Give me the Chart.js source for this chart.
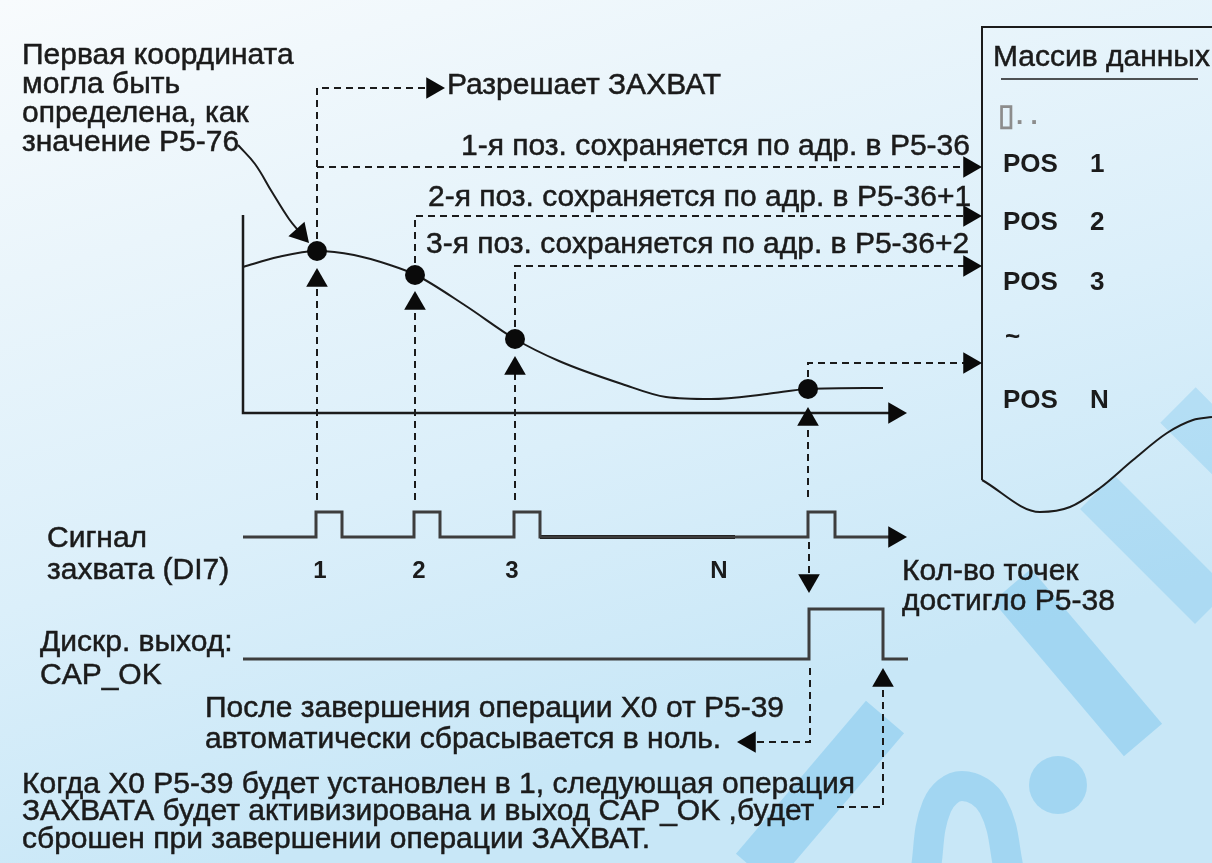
<!DOCTYPE html>
<html>
<head>
<meta charset="utf-8">
<title>Захват позиций (DI7)</title>
<script src="https://cdn.jsdelivr.net/npm/chart.js"></script>
<style>
  html, body { margin: 0; padding: 0; background: #e6f3fa; }
  #wrap { width: 1212px; height: 863px; }
</style>
</head>
<body>
<div id="wrap"><canvas id="capChart"></canvas></div>
<script>
// diagram units: x 0..1212 left to right, y 0..863 top to bottom

// position curve and the captured samples on it
const curveX = [243, 278, 317, 354, 390, 416, 466, 515, 559, 622, 666, 711, 767, 808, 883];
const curveY = [267, 257, 251, 255, 265, 275, 306, 339, 361, 384, 397, 399, 394, 389, 388];
const captureX = [317, 415, 515, 808];
const captureY = [251, 275, 339, 389];

// rows where the captured values are written into the data array
const storeRowY = [167, 216, 266, 363];
const enableRowY = 88;
const arrayEdgeX = 982;

// DI7 capture signal
const di7LowY = 537, di7HighY = 512;
const di7Start = 243, di7End = 890;
const pulseStartX = [316, 414, 514, 808];
const pulseEndX = [342, 440, 540, 835];
const idleFromX = 540, idleToX = 735;

// CAP_OK output
const capLowY = 659, capHighY = 609;
const capStart = 243, capEnd = 908;
const capRiseX = [809];
const capFallX = [883];

// axes of the position plot
const axisX0 = 243, axisY0 = 413, axisTop = 215, axisRight = 890;

// arrow tips: x, y, direction in degrees (0 = up, 90 = right)
const arrowTips = [
  [445, 88, 90],
  [982, 167, 90], [982, 216, 90], [982, 266, 90], [982, 363, 90],
  [317, 268, 0], [415, 291, 0], [515, 356, 0], [808, 407, 0],
  [907, 413, 90], [907, 537, 90],
  [809, 593, 180], [737, 742, 270], [883, 668, 0],
  [309, 243, 138]
];

// text
const plainLabels = [
  ['Первая координата', 22, 56],
  ['могла быть', 22, 85],
  ['определена, как', 22, 114],
  ['значение P5-76', 22, 143],
  ['Разрешает ЗАХВАТ', 447, 86],
  ['1-я поз. сохраняется по адр. в P5-36', 461, 147],
  ['2-я поз. сохраняется по адр. в P5-36+1', 428, 198],
  ['3-я поз. сохраняется по адр. в P5-36+2', 426, 245],
  ['Массив данных', 993, 58],
  ['Сигнал', 47, 539],
  ['захвата (DI7)', 47, 571],
  ['Кол-во точек', 902, 572],
  ['достигло P5-38', 902, 602],
  ['Дискр. выход:', 40, 643],
  ['CAP_OK', 40, 676],
  ['После завершения операции X0 от P5-39', 205, 709],
  ['автоматически сбрасывается в ноль.', 205, 740],
  ['Когда X0 P5-39 будет установлен в 1, следующая операция', 22, 785],
  ['ЗАХВАТА будет активизирована и выход CAP_OK ,будет', 22, 812],
  ['сброшен при завершении операции ЗАХВАТ.', 22, 840]
];
const posNames = ['POS', 'POS', 'POS', 'POS'];
const posIndex = ['1', '2', '3', 'N'];
const posRowY = [165, 223, 283, 401];
const pulseNames = ['1', '2', '3', 'N'];
const pulseNameX = [320, 419, 512, 719];

const INK = '#1b1b1b';
const SIG = '#3d3d3d';
const BAND = 'rgba(60, 170, 230, 0.27)';
const BAND_LIGHT = 'rgba(60, 170, 230, 0.2)';
const FONT = '"Liberation Sans", Arial, sans-serif';
const ARROW_R = 12.5;

const pts = (xs, ys) => xs.map((x, i) => ({x: x, y: ys[i]}));

function solid(data, width, color, extra) {
  return Object.assign({
    type: 'line', data: data, borderColor: color || INK, borderWidth: width || 2,
    pointRadius: 0, tension: 0, fill: false, order: 1
  }, extra || {});
}
function dashed(data) {
  return solid(data, 2, INK, {borderDash: [7, 5]});
}
function steps(start, end, low, high, ups, downs) {
  const out = [{x: start, y: low}];
  ups.forEach((u, i) => {
    out.push({x: u, y: low}, {x: u, y: high}, {x: downs[i], y: high}, {x: downs[i], y: low});
  });
  out.push({x: end, y: low});
  return out;
}

const datasets = [];

// watermark in the background
datasets.push(solid([{x: 1178, y: 405}, {x: 1250, y: 477}], 50, BAND_LIGHT, {order: 9}));
datasets.push(solid([{x: 1097, y: 492}, {x: 1212, y: 607}], 48, BAND_LIGHT, {order: 9}));
datasets.push(solid([{x: 1012, y: 585}, {x: 1143, y: 740}], 50, BAND, {order: 9}));
datasets.push(solid([{x: 755, y: 870}, {x: 885, y: 717}], 50, BAND, {order: 9}));
datasets.push(solid([{x: 925, y: 875}, {x: 937, y: 806}, {x: 962, y: 786}, {x: 993, y: 806}, {x: 1010, y: 875}], 30, BAND,
  {order: 9, tension: 0.4}));
datasets.push({type: 'scatter', data: [{x: 1058, y: 785}], pointRadius: 29, pointBackgroundColor: BAND,
  pointBorderWidth: 0, order: 9});

// position plot
datasets.push(solid([{x: axisX0, y: axisTop}, {x: axisX0, y: axisY0}, {x: axisRight, y: axisY0}], 2.5));
datasets.push(solid(pts(curveX, curveY), 2, INK, {cubicInterpolationMode: 'monotone'}));
datasets.push({type: 'scatter', data: pts(captureX, captureY), pointRadius: 10,
  pointBackgroundColor: '#0a0a0a', pointBorderWidth: 0, order: 0});

// callout from the first-coordinate note
datasets.push(solid([{x: 238, y: 145}, {x: 255, y: 164}, {x: 272, y: 192}, {x: 289, y: 219}, {x: 302, y: 235}],
  2, INK, {tension: 0.4}));

// dashed links to the data array
datasets.push(dashed([{x: captureX[0], y: captureY[0]}, {x: captureX[0], y: enableRowY}, {x: 430, y: enableRowY}]));
datasets.push(dashed([{x: captureX[0], y: storeRowY[0]}, {x: arrayEdgeX - 18, y: storeRowY[0]}]));
for (let i = 1; i < 4; i++) {
  datasets.push(dashed([{x: captureX[i], y: captureY[i]}, {x: captureX[i], y: storeRowY[i]},
    {x: arrayEdgeX - 18, y: storeRowY[i]}]));
}

// dashed links from the pulses up to the samples
const riseTopY = [286, 309, 374, 425];
captureX.forEach((x, i) => {
  datasets.push(dashed([{x: x, y: i === 3 ? 497 : 500}, {x: x, y: riseTopY[i]}]));
});
datasets.push(dashed([{x: 809, y: 542}, {x: 809, y: 578}]));
datasets.push(dashed([{x: 810, y: 668}, {x: 810, y: 742}, {x: 752, y: 742}]));
datasets.push(dashed([{x: 837, y: 807}, {x: 883, y: 807}, {x: 883, y: 686}]));

// signals
datasets.push(solid(steps(di7Start, di7End, di7LowY, di7HighY, pulseStartX, pulseEndX), 3, SIG));
datasets.push(solid([{x: idleFromX, y: di7LowY}, {x: idleToX, y: di7LowY}], 4, '#0d0d0d'));
datasets.push(solid(steps(capStart, capEnd, capLowY, capHighY, capRiseX, capFallX), 3, SIG));

// data array box
datasets.push(solid([{x: 1212, y: 27}, {x: arrayEdgeX, y: 27}, {x: arrayEdgeX, y: 480}], 2));
datasets.push(solid([{x: 982, y: 480}, {x: 1040, y: 512}, {x: 1070, y: 507}, {x: 1100, y: 488},
  {x: 1133, y: 460}, {x: 1167, y: 433}, {x: 1193, y: 420}, {x: 1212, y: 417}], 2, INK,
  {cubicInterpolationMode: 'monotone'}));
datasets.push(solid([{x: 1001, y: 79}, {x: 1198, y: 79}], 1.5));

// arrow heads
datasets.push({
  type: 'scatter',
  data: arrowTips.map(a => {
    const r = a[2] * Math.PI / 180;
    return {x: a[0] - ARROW_R * Math.sin(r), y: a[1] + ARROW_R * Math.cos(r)};
  }),
  pointStyle: 'triangle',
  pointRadius: ARROW_R,
  pointRotation: arrowTips.map(a => a[2]),
  pointBackgroundColor: '#0a0a0a',
  pointBorderWidth: 0,
  order: 0
});

const backdrop = {
  id: 'backdrop',
  beforeDraw(chart) {
    const c = chart.ctx;
    const g = c.createLinearGradient(0, 0, 260, chart.height);
    g.addColorStop(0, '#f8fbfd');
    g.addColorStop(0.3, '#eaf5fb');
    g.addColorStop(0.65, '#dbeffa');
    g.addColorStop(1, '#c8e7f7');
    c.save();
    c.fillStyle = g;
    c.fillRect(0, 0, chart.width, chart.height);
    c.restore();
  }
};

const textLayer = {
  id: 'textLayer',
  afterDatasetsDraw(chart) {
    const c = chart.ctx, sx = chart.scales.x, sy = chart.scales.y;
    c.save();
    c.textBaseline = 'middle';
    c.textAlign = 'left';
    c.fillStyle = INK;
    c.strokeStyle = INK;
    c.lineWidth = 0.5;
    c.font = '30px ' + FONT;
    plainLabels.forEach(l => {
      const px = sx.getPixelForValue(l[1]), py = sy.getPixelForValue(l[2]);
      c.fillText(l[0], px, py);
      c.strokeText(l[0], px, py);
    });

    c.font = 'bold 26px ' + FONT;
    posRowY.forEach((y, i) => {
      c.fillText(posNames[i], sx.getPixelForValue(1003), sy.getPixelForValue(y));
      c.fillText(posIndex[i], sx.getPixelForValue(1090), sy.getPixelForValue(y));
    });
    c.fillText('~', sx.getPixelForValue(1005), sy.getPixelForValue(338));
    c.fillStyle = '#8c8c8c';
    c.font = 'bold 30px ' + FONT;
    c.fillText('\u25AF', sx.getPixelForValue(998), sy.getPixelForValue(117));
    c.font = 'bold 26px ' + FONT;
    c.fillText('. .', sx.getPixelForValue(1016), sy.getPixelForValue(117));

    c.fillStyle = INK;
    c.textAlign = 'center';
    c.font = 'bold 24px ' + FONT;
    pulseNames.forEach((t, i) => c.fillText(t, sx.getPixelForValue(pulseNameX[i]), sy.getPixelForValue(571)));
    c.restore();
  }
};

new Chart(document.getElementById('capChart'), {
  type: 'scatter',
  data: {datasets: datasets},
  options: {
    responsive: true,
    maintainAspectRatio: false,
    animation: false,
    events: [],
    layout: {padding: 0, autoPadding: false},
    scales: {
      x: {type: 'linear', min: 0, max: 1212, display: false},
      y: {type: 'linear', min: 0, max: 863, reverse: true, display: false}
    },
    plugins: {legend: {display: false}, tooltip: {enabled: false}},
    elements: {line: {borderCapStyle: 'butt'}}
  },
  plugins: [backdrop, textLayer]
});
</script>
</body>
</html>
